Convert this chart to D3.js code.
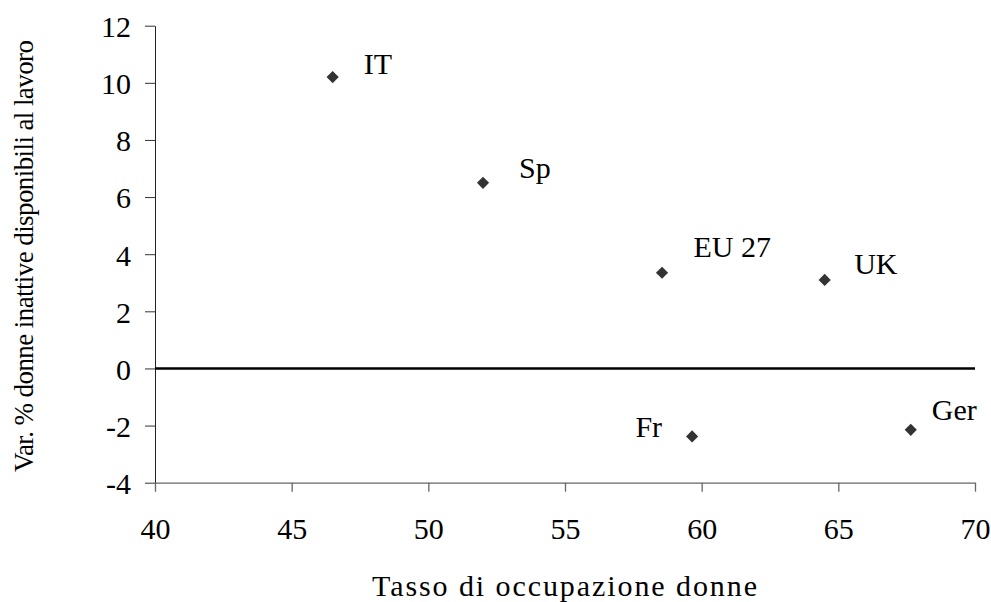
<!DOCTYPE html>
<html><head><meta charset="utf-8">
<script src="https://cdn.jsdelivr.net/npm/d3@7"></script>
<style>html,body{margin:0;padding:0;background:#fff;} text{font-family:"Liberation Serif",serif !important;}</style>
</head><body>
<svg id="c" width="991" height="602" font-family="Liberation Serif"></svg>
<script>
// ---- data ----
const countries = ["IT", "Sp", "EU 27", "UK", "Fr", "Ger"];
const employmentRate = [46.5, 52.0, 58.55, 64.5, 59.65, 67.65];
const inactiveChange = [10.2, 6.5, 3.35, 3.1, -2.38, -2.15];
const xTicks = [40, 45, 50, 55, 60, 65, 70];
const yTicks = [-4, -2, 0, 2, 4, 6, 8, 10, 12];
const xTitle = "Tasso di occupazione donne";
const yTitle = "Var. % donne inattive disponibili al lavoro";

// ---- layout ----
const labelOffsets = {
  "IT": [31, -3.5, "start"], "Sp": [36, -4.5, "start"], "EU 27": [31.5, -16, "start"],
  "UK": [29.5, -5.5, "start"], "Fr": [-30, 1, "end"], "Ger": [21, -9.5, "start"]
};
const svg = d3.select("#c");
const x = d3.scaleLinear().domain([40, 70]).range([155, 975]);
const y = d3.scaleLinear().domain([-4, 12]).range([482.7, 25.7]);

// y axis
const yAx = svg.append("g").attr("transform", `translate(${x(40)},0)`)
  .call(d3.axisLeft(y).tickValues(yTicks).tickSize(10).tickSizeOuter(0).tickFormat(d => d < 0 ? "-" + Math.abs(d) : String(d)));
yAx.attr("font-family", null).attr("font-size", 30);
yAx.select(".domain").attr("stroke", "#222");
yAx.selectAll(".tick line").attr("stroke", "#333");
yAx.selectAll(".tick text").attr("fill", "#000").attr("x", -24).attr("dy", "0.36em");

// x axis
const xAx = svg.append("g").attr("transform", `translate(0,${y(-4)})`)
  .call(d3.axisBottom(x).tickValues(xTicks).tickSize(9).tickSizeOuter(0));
xAx.attr("font-family", null).attr("font-size", 30);
xAx.select(".domain").attr("stroke", "#666").attr("stroke-width", 1.3);
xAx.selectAll(".tick line").attr("stroke", "#666").attr("stroke-width", 1.3);
xAx.selectAll(".tick text").attr("fill", "#000").attr("y", 56).attr("dy", 0);

// zero line
svg.append("line").attr("x1", x(40)).attr("x2", x(70)).attr("y1", y(0)).attr("y2", y(0))
  .attr("stroke", "#000").attr("stroke-width", 2.6);

// points
const pts = countries.map((c, i) => ({c, x: employmentRate[i], y: inactiveChange[i]}));
const sym = d3.symbol().type(d3.symbolSquare).size(74);
svg.append("g").selectAll("path").data(pts).join("path")
  .attr("d", sym)
  .attr("transform", d => `translate(${x(d.x)},${y(d.y)}) rotate(45)`)
  .attr("fill", "#333");

svg.append("g").selectAll("text").data(pts).join("text")
  .attr("x", d => x(d.x) + labelOffsets[d.c][0])
  .attr("y", d => y(d.y) + labelOffsets[d.c][1])
  .attr("text-anchor", d => labelOffsets[d.c][2])
  .attr("font-size", 30).attr("fill", "#000")
  .text(d => d.c);

// titles
svg.append("text").attr("x", 564.5).attr("y", 596).attr("text-anchor", "middle")
  .attr("font-size", 30).attr("fill", "#000")
  .attr("textLength", 385).attr("lengthAdjust", "spacing").text(xTitle);
svg.append("text").attr("transform", "translate(33,256) rotate(-90)").attr("text-anchor", "middle")
  .attr("font-size", 27).attr("fill", "#000")
  .attr("textLength", 432).attr("lengthAdjust", "spacing").text(yTitle);
</script>
</body></html>
